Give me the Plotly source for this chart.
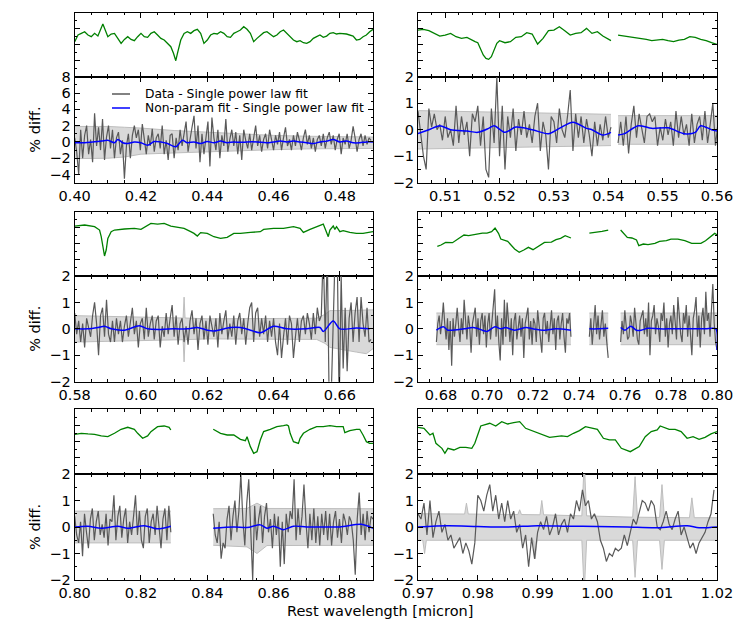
import numpy as np
import plotly.graph_objects as go

FONT = "DejaVu Sans"
# the page body has an 8 px margin; the figure is sized so that it fills the 747x624 window exactly
OFF = 8
W, H = 747 - OFF, 624 - OFF

# ---------------- Panel 1: 0.40 - 0.49 micron ----------------
p1_xrange = [0.40, 0.49]
p1_green_x = [0.400, 0.401, 0.402, 0.403, 0.404, 0.405, 0.406, 0.407, 0.4085, 0.4095, 0.410, 0.411, 0.412, 0.413,
              0.414, 0.415, 0.416, 0.417, 0.418, 0.419, 0.420, 0.421, 0.422, 0.423, 0.424, 0.425, 0.426, 0.427,
              0.428, 0.429, 0.4298, 0.4305, 0.431, 0.432, 0.433, 0.434, 0.435, 0.436, 0.437, 0.438, 0.439, 0.440,
              0.441, 0.442, 0.443, 0.444, 0.445, 0.446, 0.447, 0.448, 0.449, 0.450, 0.451, 0.452, 0.453, 0.454,
              0.455, 0.456, 0.457, 0.458, 0.459, 0.460, 0.461, 0.462, 0.463, 0.464, 0.465, 0.466, 0.467, 0.468,
              0.469, 0.470, 0.471, 0.472, 0.473, 0.474, 0.475, 0.476, 0.477, 0.478, 0.479, 0.480, 0.482, 0.484,
              0.485, 0.486, 0.487, 0.488, 0.489, 0.490]
p1_green_y = [0.547, 0.651, 0.677, 0.703, 0.651, 0.625, 0.677, 0.635, 0.823, 0.703, 0.625, 0.667, 0.677, 0.599,
              0.521, 0.583, 0.625, 0.583, 0.563, 0.625, 0.677, 0.625, 0.615, 0.677, 0.703, 0.651, 0.599, 0.573,
              0.521, 0.469, 0.365, 0.250, 0.365, 0.573, 0.677, 0.703, 0.677, 0.719, 0.740, 0.677, 0.521, 0.573,
              0.651, 0.677, 0.667, 0.703, 0.677, 0.625, 0.615, 0.677, 0.703, 0.729, 0.781, 0.740, 0.677, 0.547,
              0.599, 0.651, 0.688, 0.703, 0.667, 0.625, 0.651, 0.703, 0.729, 0.677, 0.625, 0.573, 0.547, 0.563,
              0.531, 0.521, 0.547, 0.599, 0.625, 0.651, 0.615, 0.635, 0.677, 0.688, 0.667, 0.677, 0.667, 0.635,
              0.573, 0.583, 0.625, 0.651, 0.703, 0.740]
p1_resid = [0.5, -1.2, -4.0, 1.5, -2.0, 0.8, 2.0, -1.5, 0.3, -2.5,
            3.5, -0.5, 1.8, -1.0, 2.8, -2.2, 0.6, 2.0, -0.8, 1.5,
            -2.0, 0.5, 1.2, -1.5, 0.2, -4.5, -0.5, 1.0, -2.0, 0.8,
            2.0, 0.5, 1.5, -1.0, 2.2, 0.3, -1.5, 0.8, -0.5, 1.6,
            -1.2, 0.5, 1.0, -0.8, 2.0, -1.5, 0.2, -2.2, 0.8, 1.0,
            -2.0, 0.5, -1.0, 1.5, -0.5, 1.0, 2.5, -1.2, 0.5, 1.8,
            3.2, -0.8, 2.0, -2.5, 1.0, -1.5, 0.5, 2.5, -3.0, 3.0,
            0.5, -1.0, 1.5, -2.0, 0.8, -0.5, 2.8, -1.2, 0.3, 1.5,
            -0.5, 1.2, -1.5, 0.8, -2.2, 1.5, 0.2, -0.8, 1.0, -1.0,
            0.5, 2.0, -0.5, 0.8, -1.2, 0.3, 1.0, -0.8, 1.5, 0.2,
            -1.0, 0.8, -0.3, 1.2, -1.0, 0.5, 1.8, -0.5, 0.3, -1.0,
            0.8, -0.5, 1.2, 0.2, -1.0, 0.5, 1.5, -0.3, 0.8, -0.8,
            0.5, -1.2, 0.3, 0.8, -0.5, 1.0, -0.8, 0.5, 1.2, -0.3,
            0.8, -1.0, 0.3, 1.0, -1.5, 0.5, -0.3, 1.0, -0.8, 0.2,
            1.9, 0.5, -1.2, 0.3, 1.0, -0.5, 0.8, -0.3, 0.5, 0.2]
p1_resid_span = (0.400, 0.4894)
p1_fit_x = [0.400, 0.403, 0.408, 0.410, 0.412, 0.413, 0.4145, 0.416, 0.418, 0.420, 0.422, 0.424, 0.426, 0.428,
            0.4305, 0.4325, 0.434, 0.436, 0.438, 0.440, 0.442, 0.444, 0.446, 0.448, 0.450, 0.452, 0.455, 0.458,
            0.460, 0.462, 0.464, 0.466, 0.468, 0.470, 0.472, 0.474, 0.476, 0.478, 0.480, 0.482, 0.484, 0.486,
            0.488, 0.490]
p1_fit_y = [-0.1, -0.1, 0.1, 0.2, -0.1, 0.3, -0.1, -0.2, 0.0, -0.1, -0.4, 0.05, 0.0, -0.2,
            -0.6, 0.2, -0.1, 0.0, -0.2, 0.05, -0.1, 0.1, -0.1, 0.0, -0.05, 0.0, 0.0, -0.1,
            0.0, 0.1, 0.0, 0.1, 0.0, -0.1, -0.2, 0.0, 0.1, 0.3, 0.0, 0.1, -0.1, -0.1,
            0.0, 0.0]
p1_band_x = [0.400, 0.410, 0.415, 0.420, 0.430, 0.440, 0.450, 0.460, 0.470, 0.480, 0.490]
p1_band_hi = [1.9, 1.9, 1.8, 1.7, 1.4, 1.2, 1.0, 0.8, 0.7, 0.65, 0.6]
p1_band_lo = [-2.05, -2.0, -1.85, -1.5, -1.35, -1.2, -1.05, -0.95, -0.85, -0.8, -0.8]

# ---------------- Panel 2: 0.505 - 0.56 micron ----------------
p2_xrange = [0.505, 0.56]
p2_green_x = [0.505, 0.506, 0.507, 0.508, 0.509, 0.510, 0.511, 0.512, 0.513, 0.514, 0.515, 0.5155, 0.516,
              0.5165, 0.517, 0.5175, 0.518, 0.5185, 0.519, 0.5195, 0.520, 0.521, 0.522, 0.523, 0.524, 0.525,
              0.526, 0.5265, 0.527, 0.528, 0.529, 0.530, 0.531, 0.532, 0.533, 0.534, 0.535, 0.536, 0.537,
              0.538, 0.539, 0.5405, None,
              0.5418, 0.543, 0.544, 0.545, 0.546, 0.547, 0.548, 0.549, 0.550, 0.551, 0.552, 0.553, 0.554,
              0.555, 0.556, 0.557, 0.558, 0.559, 0.560]
p2_green_y = [0.729, 0.740, 0.719, 0.677, 0.635, 0.651, 0.677, 0.625, 0.599, 0.615, 0.563, 0.547, 0.531,
              0.443, 0.339, 0.286, 0.271, 0.313, 0.417, 0.521, 0.563, 0.531, 0.547, 0.615, 0.625, 0.688,
              0.667, 0.583, 0.510, 0.599, 0.719, 0.729, 0.781, 0.719, 0.651, 0.677, 0.688, 0.755, 0.677,
              0.703, 0.635, 0.563, None,
              0.651, 0.635, 0.625, 0.615, 0.599, 0.583, 0.563, 0.573, 0.583, 0.563, 0.547, 0.573, 0.583,
              0.625, 0.615, 0.583, 0.563, 0.531, 0.505]
p2_resid_a = [0.7, -0.1, -1.0, -1.5, 0.8, 0.1, 0.6, 0.0, 0.2, -0.4,
              0.5, -0.3, 0.0, -0.6, 0.9, -0.5, 0.5, -0.2, 0.3, -1.0,
              0.6, 0.3, 0.9, -0.6, 0.5, -1.5, -1.8, 0.8, -0.5, 2.0,
              -1.0, 0.9, -1.5, 0.5, -0.3, 0.8, -0.8, 0.4, -0.2, 0.7,
              -0.3, 0.2, -0.5, 0.5, 1.0, -0.8, 0.3, -0.2, -1.5, 0.5,
              0.3, -0.5, 0.8, 0.0, -0.3, 0.5, 1.5, -0.8, 0.6, -0.3,
              0.5, -0.5, 0.4, -0.2, -1.0, 0.3, -0.6, 0.2, -0.4, 0.5,
              -0.3, 0.1]
p2_resid_a_span = (0.505, 0.5405)
p2_resid_b = [-0.5, 0.3, -0.6, 0.5, -0.9, 0.2, 0.9, -0.3, 0.6, 0.1,
              -0.5, 0.5, 0.6, 0.3, 0.5, -0.6, 0.1, -0.4, 0.4, -0.2,
              0.3, -0.6, 0.7, -0.3, 0.5, -0.2, 0.2, -0.6, 0.6, -0.5,
              0.2, 0.5, -0.4, 0.7, -0.5, 0.2, 1.0, -0.6, 0.3]
p2_resid_b_span = (0.5418, 0.5602)
p2_fit_x = [0.505, 0.507, 0.509, 0.511, 0.514, 0.516, 0.518, 0.519, 0.521, 0.523, 0.526, 0.529, 0.531, 0.5335,
            0.536, 0.537, 0.539, 0.5405, None,
            0.5418, 0.543, 0.5455, 0.548, 0.551, 0.554, 0.556, 0.557, 0.559, 0.560]
p2_fit_y = [-0.15, 0.0, 0.15, 0.0, -0.05, -0.1, 0.05, 0.15, -0.1, 0.1, 0.0, -0.15, 0.05, 0.28,
            0.05, 0.0, -0.2, -0.1, None,
            -0.2, -0.15, 0.15, 0.05, 0.07, -0.15, -0.1, 0.15, 0.0, -0.05]
p2_band_x = [0.505, 0.5405, None, 0.5418, 0.560]
p2_band_hi = [0.72, 0.58, None, 0.53, 0.53]
p2_band_lo = [-0.73, -0.6, None, -0.55, -0.55]

# ---------------- Panel 3: 0.58 - 0.67 micron ----------------
p3_xrange = [0.58, 0.67]
p3_green_x = [0.580, 0.583, 0.586, 0.5875, 0.588, 0.5885, 0.589, 0.5895, 0.590, 0.591, 0.592, 0.595, 0.598,
              0.600, 0.602, 0.603, 0.605, 0.607, 0.609, 0.611, 0.613, 0.615, 0.616, 0.617, 0.618, 0.620,
              0.622, 0.624, 0.626, 0.628, 0.630, 0.633, 0.636, 0.637, 0.640, 0.643, 0.646, 0.648, 0.649,
              0.651, 0.653, 0.654, 0.655, 0.6555, 0.6565, 0.657, 0.658, 0.6585, 0.659, 0.660, 0.661, 0.663,
              0.665, 0.667, 0.669, 0.670]
p3_green_y = [0.777, 0.793, 0.767, 0.715, 0.611, 0.456, 0.311, 0.404, 0.585, 0.689, 0.715, 0.731, 0.741,
              0.725, 0.793, 0.819, 0.808, 0.819, 0.777, 0.756, 0.741, 0.689, 0.663, 0.622, 0.674, 0.663,
              0.611, 0.585, 0.601, 0.663, 0.663, 0.679, 0.689, 0.725, 0.741, 0.741, 0.767, 0.741, 0.679,
              0.725, 0.767, 0.793, 0.808, 0.741, 0.611, 0.715, 0.777, 0.725, 0.767, 0.689, 0.705, 0.679,
              0.663, 0.663, 0.684, 0.689]
p3_resid = [0.6, -0.2, 0.3, -0.5, 0.2, -0.7, 0.4, 0.1, -0.3, 0.5,
            1.0, 0.2, -1.0, 0.5, 0.8, -0.3, 1.1, -0.2, -0.5, 0.3,
            -0.5, 0.4, -0.2, 0.3, -0.5, 0.1, 0.5, -0.3, 0.2, 0.8,
            -0.2, 0.3, -0.7, 0.2, 0.4, -0.4, 0.8, -0.3, 0.2, 0.5,
            -0.4, 0.3, 0.5, -0.7, 0.1, -0.3, 0.6, -0.2, 0.4, 0.9,
            -0.3, 0.5, -0.6, 0.2, 0.4, -0.5, 0.1, -0.6, 0.3, 0.7,
            -0.2, 0.4, -0.8, 0.2, 0.5, -0.4, 0.3, -0.6, 0.5, 0.1,
            -0.3, 0.4, -0.7, 0.6, -0.2, 0.3, 0.7, -0.4, 0.2, -0.3,
            0.5, -0.6, 0.3, 0.6, -0.2, 0.4, -0.6, 0.2, 0.8, 1.0,
            -0.5, 0.6, 0.8, -0.3, 0.4, -0.2, 0.5, -0.5, 0.3, -0.3,
            0.4, -0.5, -1.0, 0.2, -1.1, -0.3, 0.4, -0.6, 0.5, 0.2,
            -1.1, -0.3, 0.4, -0.5, 0.3, 0.5, -0.2, 0.6, 0.2, -0.4,
            0.6, -0.2, 0.8, 0.3, 0.5, 3.0, -0.5, 3.0, -3.0, -2.5,
            0.5, 3.0, 3.0, -3.0, 2.0, -1.5, 0.8, -1.6, 0.4, 1.0,
            -0.5, 0.6, 1.2, -0.5, 1.2, 0.2, -0.3, 0.8, -0.5, -0.4]
p3_resid_span = (0.580, 0.6694)
p3_fit_x = [0.580, 0.584, 0.587, 0.589, 0.591, 0.595, 0.5995, 0.602, 0.606, 0.610, 0.614, 0.617, 0.620, 0.622,
            0.627, 0.630, 0.633, 0.636, 0.640, 0.644, 0.650, 0.654, 0.655, 0.658, 0.660, 0.665, 0.669]
p3_fit_y = [0.0, 0.0, 0.05, 0.1, 0.0, -0.05, 0.12, 0.0, -0.02, 0.0, 0.0, 0.05, -0.05, -0.08,
            0.05, 0.05, -0.05, -0.15, 0.1, 0.0, 0.0, 0.05, -0.1, 0.3, 0.0, 0.03, 0.0]
p3_band_x = [0.580, 0.600, 0.6127, 0.613, 0.6133, 0.620, 0.640, 0.653, 0.6555, 0.657, 0.665, 0.668, 0.670]
p3_band_hi = [0.5, 0.45, 0.41, 1.2, 0.41, 0.38, 0.4, 0.4, 0.55, 0.69, 0.7, 0.72, 0.72]
p3_band_lo = [-0.5, -0.45, -0.41, -1.25, -0.41, -0.38, -0.4, -0.4, -0.55, -0.7, -0.88, -0.94, -0.75]

# ---------------- Panel 4: 0.67 - 0.80 micron ----------------
p4_xrange = [0.67, 0.80]
p4_green_x = [0.6784, 0.680, 0.682, 0.685, 0.688, 0.690, 0.692, 0.695, 0.698, 0.700, 0.702, 0.7035, 0.705,
              0.706, 0.709, 0.712, 0.714, 0.716, 0.718, 0.720, 0.723, 0.725, 0.728, 0.730, 0.732, 0.734,
              0.7365, None, 0.7445, 0.748, 0.750, 0.7527, None,
              0.7581, 0.7595, 0.761, 0.763, 0.765, 0.766, 0.768, 0.770, 0.773, 0.775, 0.778, 0.780, 0.783,
              0.786, 0.789, 0.791, 0.793, 0.795, 0.797, 0.799, 0.800]
p4_green_y = [0.461, 0.482, 0.523, 0.518, 0.591, 0.637, 0.627, 0.653, 0.668, 0.668, 0.689, 0.746, 0.663,
              0.575, 0.539, 0.420, 0.368, 0.404, 0.446, 0.409, 0.472, 0.523, 0.528, 0.565, 0.585, 0.627,
              0.591, None, 0.668, 0.679, 0.694, 0.715, None,
              0.715, 0.653, 0.601, 0.591, 0.560, 0.472, 0.497, 0.487, 0.508, 0.539, 0.549, 0.575, 0.575,
              0.549, 0.508, 0.508, 0.508, 0.549, 0.611, 0.663, 0.642]
p4_resid_a = [-0.5, 0.2, 0.5, -0.2, 0.3, 1.0, 0.2, -0.4, 0.4, -0.8,
              0.3, -1.4, 0.4, -0.3, 0.2, 0.8, 0.1, -0.5, 0.4, -0.2,
              1.1, 0.3, -0.4, 0.5, 0.1, -0.9, 0.2, 0.5, 0.8, -0.3,
              0.4, -0.6, 0.3, 0.6, -0.2, 0.5, -0.7, 0.2, 0.6, -0.4,
              0.3, 0.7, 1.5, -0.3, 0.5, -0.5, -1.2, 0.4, -0.6, 1.1,
              -0.3, 1.0, 0.2, -0.5, 0.4, -1.0, 0.3, 0.6, -0.4, 0.2,
              0.5, -0.3, 0.4, -1.1, 0.2, 0.5, 0.8, -0.4, 0.3, -0.6,
              0.4, 0.2, -0.5, 0.7, 0.1, -0.3, -0.9, 0.4, 0.6, -0.2,
              0.3, -0.5, 0.2, 0.7, -0.2, 0.4, -0.8, 0.3, 0.5, -0.4,
              0.2, 0.6, -0.3, -0.9, 0.4, 0.2, 0.6, -0.3]
p4_resid_a_span = (0.678, 0.7365)
p4_resid_b = [-0.3, 0.4, -0.6, 0.2, 0.9, -0.2, 0.5, -0.4, 0.3, 0.7, -0.3, 0.2, -0.5, -1.1]
p4_resid_b_span = (0.7445, 0.7527)
p4_resid_c = [-0.5, 0.3, -0.2, 0.7, 0.1, -0.4, -0.3, 0.5, 0.2, -0.3,
              0.8, 0.2, -0.4, -0.6, 0.3, 0.5, 0.7, -0.2, 0.4, -0.3,
              1.0, -1.0, 0.3, 0.5, 0.9, -0.2, 0.4, 0.1, -0.5, 0.6,
              0.3, 1.0, -0.3, 0.4, -0.7, 0.2, 0.5, -0.2, 0.9, 0.3,
              -0.4, 1.2, 0.4, -0.2, -0.5, 0.6, 0.2, 0.9, -0.3, 0.5,
              -0.2, -1.0, 0.4, 0.7, 1.2, -0.3, 0.5, -0.7, 0.4, 0.8,
              -0.2, 1.4, 0.3, 0.6, -0.3, 0.5, 1.7, 0.2, -0.5, -0.8]
p4_resid_c_span = (0.7581, 0.800)
p4_fit_x = [0.678, 0.681, 0.683, 0.690, 0.694, 0.698, 0.700, 0.7035, 0.706, 0.708, 0.712, 0.717, 0.720, 0.725,
            0.730, 0.7365, None, 0.7445, 0.748, 0.7527, None,
            0.7581, 0.760, 0.7625, 0.765, 0.767, 0.770, 0.775, 0.780, 0.785, 0.790, 0.795, 0.7995, 0.800]
p4_fit_y = [-0.05, 0.08, -0.05, 0.0, 0.05, -0.05, -0.1, 0.08, 0.0, 0.05, -0.05, 0.05, 0.0, -0.05,
            0.0, -0.05, None, 0.0, 0.0, 0.02, None,
            0.05, -0.05, 0.1, -0.05, -0.05, 0.02, 0.0, 0.0, 0.0, 0.0, 0.0, 0.0, -0.8]
p4_band_x = [0.678, 0.7365, None, 0.7445, 0.7527, None, 0.7581, 0.800]
p4_band_hi = [0.6, 0.6, None, 0.6, 0.6, None, 0.6, 0.6]
p4_band_lo = [-0.6, -0.6, None, -0.6, -0.6, None, -0.6, -0.6]

# ---------------- Panel 5: 0.80 - 0.89 micron ----------------
p5_xrange = [0.80, 0.89]
p5_green_x = [0.800, 0.802, 0.804, 0.806, 0.808, 0.810, 0.812, 0.814, 0.816, 0.818, 0.819, 0.8205, 0.822,
              0.823, 0.825, 0.827, 0.8285, 0.829, None,
              0.8418, 0.844, 0.846, 0.848, 0.850, 0.8515, 0.852, 0.853, 0.854, 0.855, 0.856, 0.857, 0.859,
              0.861, 0.863, 0.864, 0.8645, 0.865, 0.866, 0.8675, 0.868, 0.869, 0.871, 0.873, 0.875, 0.877,
              0.879, 0.881, 0.8815, 0.883, 0.885, 0.886, 0.887, 0.888, 0.889, 0.890]
p5_green_y = [0.613, 0.629, 0.619, 0.613, 0.588, 0.577, 0.629, 0.691, 0.722, 0.691, 0.629, 0.552, 0.588,
              0.655, 0.732, 0.742, 0.722, 0.680, None,
              0.691, 0.629, 0.603, 0.603, 0.536, 0.515, 0.577, 0.423, 0.320, 0.345, 0.526, 0.655, 0.691,
              0.732, 0.747, 0.758, 0.742, 0.629, 0.500, 0.474, 0.552, 0.629, 0.691, 0.732, 0.732, 0.747,
              0.732, 0.732, 0.639, 0.670, 0.691, 0.691, 0.603, 0.500, 0.474, 0.474]
p5_resid_a = [0.4, -0.3, -0.6, 0.2, -1.1, 0.5, -0.2, -0.8, 0.3, 0.7,
              -0.5, 0.2, 0.6, -0.3, 0.1, -0.4, 0.5, -0.7, 0.3, 0.2,
              1.2, -0.5, 0.4, 0.8, -0.4, 0.3, 0.7, -0.6, 0.2, -0.3,
              0.4, 1.2, -0.3, 0.6, -0.5, -0.8, 0.4, 0.7, -0.6, 0.2,
              0.5, -0.3, 0.8, 0.1, -0.8, 0.3, 0.7, -0.5, 0.8, -0.2]
p5_resid_a_span = (0.800, 0.829)
p5_resid_b = [0.5, -0.3, -0.6, 0.2, -1.2, -0.6, -0.8, 0.3, 0.8, -0.5,
              0.4, 1.0, -0.2, 0.6, 2.0, 0.3, -0.7, 0.9, 1.8, -0.4,
              -2.0, 0.8, -0.5, 0.3, 0.8, -0.6, 0.4, 0.9, -0.2, 0.3,
              -0.8, 0.5, -0.3, 0.4, -1.5, 0.2, -1.4, 0.5, -0.2, 0.6,
              0.3, 1.8, -0.5, 0.7, -0.3, 0.4, 1.6, 0.2, -0.8, 0.5,
              -0.5, 0.7, -0.6, 0.4, -0.7, 0.5, -0.3, 0.6, -0.5, 0.5,
              -0.7, 0.2, 0.6, -0.4, 0.3, -0.6, 0.5, 0.2, -0.3, 0.4,
              0.2, -0.5, -1.8, 0.3, 1.3, -0.3, 0.5, -0.5, 0.6, -0.2,
              0.4, 0.3]
p5_resid_b_span = (0.8418, 0.890)
p5_fit_x = [0.800, 0.804, 0.808, 0.813, 0.816, 0.821, 0.825, 0.829, None,
            0.8418, 0.848, 0.852, 0.856, 0.858, 0.860, 0.863, 0.866, 0.870, 0.875, 0.880, 0.8865, 0.890]
p5_fit_y = [0.0, 0.03, -0.05, 0.03, -0.05, 0.05, -0.07, 0.03, None,
            -0.05, 0.0, -0.02, 0.08, -0.05, 0.03, -0.1, 0.03, 0.0, 0.0, 0.0, 0.1, -0.05]
p5_band_x = [0.800, 0.829, None, 0.8418, 0.852, 0.855, 0.858, 0.890]
p5_band_hi = [0.6, 0.6, None, 0.69, 0.7, 0.9, 0.7, 0.69]
p5_band_lo = [-0.6, -0.6, None, -0.69, -0.75, -1.0, -0.7, -0.69]

# ---------------- Panel 6: 0.97 - 1.02 micron ----------------
p6_xrange = [0.97, 1.02]
p6_green_x = [0.970, 0.971, 0.972, 0.9725, 0.973, 0.974, 0.9745, 0.975, 0.976, 0.977, 0.978, 0.979, 0.9795,
              0.9805, 0.982, 0.983, 0.984, 0.985, 0.986, 0.987, 0.988, 0.989, 0.990, 0.992, 0.994, 0.995,
              0.996, 0.997, 0.998, 0.999, 1.000, 1.001, 1.002, 1.003, 1.004, 1.0055, 1.007, 1.008, 1.009,
              1.010, 1.0105, 1.012, 1.013, 1.014, 1.015, 1.016, 1.017, 1.018, 1.019, 1.020]
p6_green_y = [0.722, 0.706, 0.603, 0.629, 0.474, 0.397, 0.320, 0.397, 0.371, 0.412, 0.412, 0.397, 0.474,
              0.742, 0.784, 0.742, 0.809, 0.773, 0.794, 0.809, 0.706, 0.670, 0.629, 0.567, 0.588, 0.577,
              0.629, 0.670, 0.732, 0.706, 0.691, 0.552, 0.526, 0.526, 0.397, 0.345, 0.423, 0.577, 0.655,
              0.680, 0.742, 0.691, 0.691, 0.655, 0.552, 0.577, 0.536, 0.567, 0.619, 0.655]
p6_resid = [0.5, 0.3, 0.9, -0.3, 1.0, -0.4, 0.2, 0.6, -0.2, 0.1,
            -0.5, -0.3, -0.8, -0.6, -0.4, -1.0, -0.6, -0.9, -1.4, -0.6,
            1.2, 1.0, 0.6, 1.2, 1.6, 0.6, 1.2, 0.3, 0.9, 0.2,
            1.0, 0.3, 0.6, -0.2, 0.1, -0.8, -0.3, -1.5, -0.4, -1.2,
            -0.2, 0.2, -0.1, 0.4, -0.3, 0.0, 0.5, -0.3, 0.1, 0.3,
            -0.2, 0.5, 0.3, 1.0, 0.6, 1.4, 0.8, 1.0, 0.3, 0.5,
            0.2, -0.5, -0.8, -1.3, -1.0, -1.1, -0.8, -0.9, -0.8, -0.3,
            -0.7, -0.2, 0.3, 0.1, 0.6, 1.0, 0.9, 0.6, 1.0, 0.8,
            0.0, -0.1, 0.2, 0.6, 0.1, -0.1, 0.3, 0.6, -0.3, 0.0,
            -0.4, -0.8, -0.6, -1.0, -0.6, -0.4, -0.2, 0.2, 0.5, 1.4]
p6_resid_span = (0.970, 1.0195)
p6_fit_x = [0.970, 0.975, 0.980, 0.985, 0.990, 0.995, 1.000, 1.005, 1.010, 1.015, 1.017, 1.020]
p6_fit_y = [0.0, 0.05, 0.02, 0.0, 0.05, 0.03, 0.02, 0.0, -0.03, 0.05, -0.03, 0.0]
p6_band_x = [0.970, 0.9708, 0.9711, 0.9714, 0.9778, 0.9781, 0.9784, 0.9867, 0.9870, 0.9873, 0.9893, 0.9896,
             0.9899, 0.9904, 0.9907, 0.9910, 0.9974, 0.9978, 0.9982, 1.0059, 1.0063, 1.0067, 1.0104, 1.0108,
             1.0112, 1.0154, 1.0158, 1.0162, 1.020]
p6_band_hi = [0.5, 0.5, 0.5, 0.5, 0.49, 0.9, 0.49, 0.47, 0.65, 0.47, 0.46, 0.46,
              0.46, 0.46, 1.0, 0.46, 0.42, 2.5, 0.42, 0.37, 1.9, 0.37, 0.36, 1.6,
              0.36, 0.35, 1.1, 0.35, 0.35]
p6_band_lo = [-0.5, -0.5, -1.0, -0.5, -0.5, -0.5, -0.5, -0.5, -0.5, -0.5, -0.5, -1.2,
              -0.5, -0.5, -0.5, -0.5, -0.5, -2.5, -0.5, -0.5, -1.9, -0.5, -0.5, -1.6,
              -0.5, -0.5, -0.5, -0.5, -0.5]

# y-axis settings of the residual panels
p1_yticks = [-4, -2, 0, 2, 4, 6, 8]
p1_yrange = [-5, 8]
other_yticks = [-2, -1, 0, 1, 2]
other_yrange = [-2, 2]

panels = [
    dict(xr=p1_xrange, dt=0.02, gx=p1_green_x, gy=p1_green_y,
         resid=[(p1_resid_span, p1_resid)], fx=p1_fit_x, fy=p1_fit_y,
         bx=p1_band_x, bh=p1_band_hi, bl=p1_band_lo, yr=p1_yrange, yt=p1_yticks),
    dict(xr=p2_xrange, dt=0.01, gx=p2_green_x, gy=p2_green_y,
         resid=[(p2_resid_a_span, p2_resid_a), (p2_resid_b_span, p2_resid_b)], fx=p2_fit_x, fy=p2_fit_y,
         bx=p2_band_x, bh=p2_band_hi, bl=p2_band_lo, yr=other_yrange, yt=other_yticks),
    dict(xr=p3_xrange, dt=0.02, gx=p3_green_x, gy=p3_green_y,
         resid=[(p3_resid_span, p3_resid)], fx=p3_fit_x, fy=p3_fit_y,
         bx=p3_band_x, bh=p3_band_hi, bl=p3_band_lo, yr=other_yrange, yt=other_yticks),
    dict(xr=p4_xrange, dt=0.02, gx=p4_green_x, gy=p4_green_y,
         resid=[(p4_resid_a_span, p4_resid_a), (p4_resid_b_span, p4_resid_b), (p4_resid_c_span, p4_resid_c)],
         fx=p4_fit_x, fy=p4_fit_y, bx=p4_band_x, bh=p4_band_hi, bl=p4_band_lo, yr=other_yrange, yt=other_yticks),
    dict(xr=p5_xrange, dt=0.02, gx=p5_green_x, gy=p5_green_y,
         resid=[(p5_resid_a_span, p5_resid_a), (p5_resid_b_span, p5_resid_b)], fx=p5_fit_x, fy=p5_fit_y,
         bx=p5_band_x, bh=p5_band_hi, bl=p5_band_lo, yr=other_yrange, yt=other_yticks),
    dict(xr=p6_xrange, dt=0.01, gx=p6_green_x, gy=p6_green_y,
         resid=[(p6_resid_span, p6_resid)], fx=p6_fit_x, fy=p6_fit_y,
         bx=p6_band_x, bh=p6_band_hi, bl=p6_band_lo, yr=other_yrange, yt=other_yticks),
]


def px(x):
    # window pixel -> paper fraction
    return (x - OFF) / W


def py(y):
    return 1 - (y - OFF) / H


col_dom = [[px(74.7), px(373)], [px(418), px(717)]]
row_px = [(12.7, 76.7, 182.7), (211.7, 276.0, 381.7), (409.3, 474.0, 580.0)]

GREEN = "#008000"
GRAY = "#595959"
BLUE = "#0000ff"
BAND = "#d9d9d9"
BAND_EDGE = "#bdbdbd"


def split_segments(xs, *ys):
    segs, cur = [], [[] for _ in range(1 + len(ys))]
    for i, x in enumerate(xs):
        if x is None:
            if cur[0]:
                segs.append(cur)
            cur = [[] for _ in range(1 + len(ys))]
            continue
        cur[0].append(x)
        for k, y in enumerate(ys):
            cur[k + 1].append(y[i])
    if cur[0]:
        segs.append(cur)
    return segs


fig = go.Figure()
layout = {}
common = dict(showline=True, linecolor="black", linewidth=1, mirror="ticks", ticks="inside",
              ticklen=5, tickwidth=1, tickcolor="black", showgrid=False, zeroline=False, automargin=False,
              tickfont=dict(family=FONT, size=14.5, color="black"))

for i, P in enumerate(panels):
    t, b = 2 * i + 1, 2 * i + 2
    xt, yt = ("x", "y") if t == 1 else (f"x{t}", f"y{t}")
    xb, yb = f"x{b}", f"y{b}"
    col, row = i % 2, i // 2
    r0, r1, r2 = row_px[row]

    # top: spectrum
    fig.add_trace(go.Scatter(x=P["gx"], y=P["gy"], mode="lines", line=dict(color=GREEN, width=1.3),
                             xaxis=xt, yaxis=yt, showlegend=False, hoverinfo="skip"))
    # bottom: uncertainty band
    for sx, sh, sl in split_segments(P["bx"], P["bh"], P["bl"]):
        fig.add_trace(go.Scatter(x=sx + sx[::-1], y=sh + sl[::-1], mode="lines", fill="toself",
                                 fillcolor=BAND, line=dict(width=0), xaxis=xb, yaxis=yb,
                                 showlegend=False, hoverinfo="skip"))
        for edge in (sh, sl):
            fig.add_trace(go.Scatter(x=sx, y=edge, mode="lines", line=dict(color=BAND_EDGE, width=1),
                                     xaxis=xb, yaxis=yb, showlegend=False, hoverinfo="skip"))
    # residual data
    for (a, c), vals in P["resid"]:
        fig.add_trace(go.Scatter(x=np.linspace(a, c, len(vals)), y=vals, mode="lines",
                                 line=dict(color=GRAY, width=1.2), xaxis=xb, yaxis=yb,
                                 showlegend=False, hoverinfo="skip"))
    # non-parametric fit
    fig.add_trace(go.Scatter(x=P["fx"], y=P["fy"], mode="lines", line=dict(color=BLUE, width=1.5, shape="spline",
                                                                           smoothing=0.8),
                             xaxis=xb, yaxis=yb, showlegend=False, hoverinfo="skip"))

    minor_dt = P["dt"] / 4
    layout["xaxis" if t == 1 else f"xaxis{t}"] = dict(
        common, domain=col_dom[col], anchor=yt, range=P["xr"], dtick=P["dt"], tick0=0,
        showticklabels=False, minor=dict(ticks="inside", ticklen=2.5, tickcolor="black", dtick=minor_dt))
    layout["yaxis" if t == 1 else f"yaxis{t}"] = dict(
        common, domain=[py(r1), py(r0)], anchor=xt, range=[0, 1], dtick=0.25, tick0=0,
        showticklabels=False, minor=dict(ticks="inside", ticklen=2.5, tickcolor="black", dtick=0.125))
    layout[f"xaxis{b}"] = dict(
        common, domain=col_dom[col], anchor=yb, range=P["xr"], dtick=P["dt"], tick0=0, tickformat=".2f",
        minor=dict(ticks="inside", ticklen=2.5, tickcolor="black", dtick=minor_dt))
    layout[f"yaxis{b}"] = dict(
        common, domain=[py(r2), py(r1)], anchor=xb, range=P["yr"], tickvals=P["yt"],
        minor=dict(ticks="inside", ticklen=2.5, tickcolor="black", dtick=0.5 if i else 1))

annotations = []
for row in range(3):
    r0, r1, r2 = row_px[row]
    annotations.append(dict(text="% diff.", x=px(35), y=py((r1 + r2) / 2), xref="paper", yref="paper",
                            xanchor="center", yanchor="middle", showarrow=False, textangle=-90,
                            font=dict(family=FONT, size=14.5, color="black")))
annotations.append(dict(text="Rest wavelength [micron]", x=px(380), y=py(611), xref="paper", yref="paper",
                        xanchor="center", yanchor="middle", showarrow=False,
                        font=dict(family=FONT, size=14.5, color="black")))

legend_labels = ["Data - Single power law fit", "Non-param fit - Single power law fit"]
legend_colors = [GRAY, BLUE]
legend_rows = [94, 108]
shapes = []
for lab, colr, yy in zip(legend_labels, legend_colors, legend_rows):
    shapes.append(dict(type="line", xref="paper", yref="paper", x0=px(112), x1=px(130), y0=py(yy), y1=py(yy),
                       line=dict(color=colr, width=1.5)))
    annotations.append(dict(text=lab, x=px(143), y=py(yy), xref="paper", yref="paper", xanchor="left",
                            yanchor="middle", showarrow=False, font=dict(family=FONT, size=12.3, color="black")))

fig.update_layout(width=W, height=H, margin=dict(l=0, r=0, t=0, b=0), autosize=False,
                  paper_bgcolor="white", plot_bgcolor="white", showlegend=False,
                  annotations=annotations, shapes=shapes, font=dict(family=FONT), **layout)

fig.write_html("out.html")
